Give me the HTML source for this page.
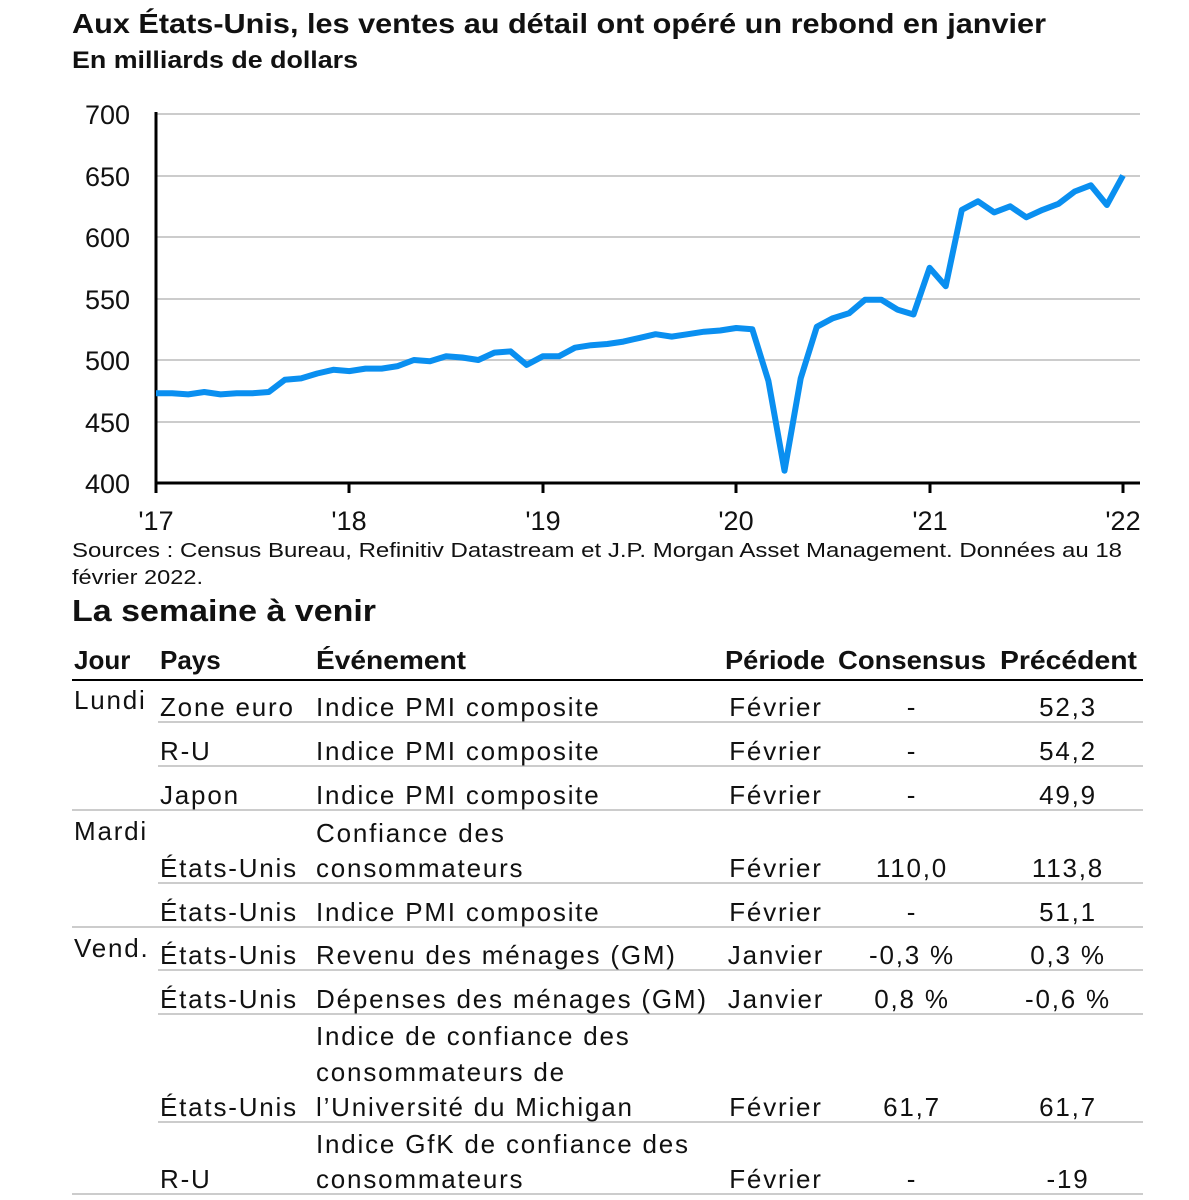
<!DOCTYPE html>
<html><head><meta charset="utf-8"><style>
html,body{margin:0;padding:0;background:#fff}
svg{display:block}
text{font-family:"Liberation Sans",sans-serif;fill:#111}
.t text{letter-spacing:1.8px}
</style></head><body>
<svg width="1189" height="1200" viewBox="0 0 1189 1200" xmlns="http://www.w3.org/2000/svg">
<text x="72" y="33" font-size="28" font-weight="bold" textLength="974" lengthAdjust="spacingAndGlyphs">Aux États-Unis, les ventes au détail ont opéré un rebond en janvier</text>
<text x="72" y="68" font-size="24" font-weight="bold" textLength="286" lengthAdjust="spacingAndGlyphs">En milliards de dollars</text>
<g stroke="#cccccc" stroke-width="2">
<line x1="156" y1="114" x2="1140" y2="114"/><line x1="156" y1="176" x2="1140" y2="176"/>
<line x1="156" y1="237" x2="1140" y2="237"/><line x1="156" y1="299" x2="1140" y2="299"/>
<line x1="156" y1="360" x2="1140" y2="360"/><line x1="156" y1="422" x2="1140" y2="422"/>
</g>
<g stroke="#000" stroke-width="3">
<line x1="156" y1="112" x2="156" y2="484"/><line x1="155" y1="483" x2="1140" y2="483"/>
<line x1="156" y1="483" x2="156" y2="493"/><line x1="349" y1="483" x2="349" y2="493"/>
<line x1="543" y1="483" x2="543" y2="493"/><line x1="736" y1="483" x2="736" y2="493"/>
<line x1="930" y1="483" x2="930" y2="493"/><line x1="1123" y1="483" x2="1123" y2="493"/>
</g>
<g font-size="27" text-anchor="end">
<text x="130" y="124">700</text><text x="130" y="186">650</text><text x="130" y="247">600</text>
<text x="130" y="309">550</text><text x="130" y="370">500</text><text x="130" y="432">450</text><text x="130" y="493">400</text>
</g>
<g font-size="27" text-anchor="middle">
<text x="156" y="530">'17</text><text x="349" y="530">'18</text><text x="543" y="530">'19</text>
<text x="736" y="530">'20</text><text x="930" y="530">'21</text><text x="1123" y="530">'22</text>
</g>
<polyline id="ln" fill="none" stroke="#0a8ff0" stroke-width="6" stroke-linejoin="round" points=""/>
<script>
var v=[473,473,472,474,472,473,473,474,484,485,489,492,491,493,493,495,500,499,503,502,500,506,507,496,503,503,510,512,513,515,518,521,519,521,523,524,526,525,483,410,485,527,534,538,549,549,541,537,575,560,622,629,620,625,616,622,627,637,642,626,650];
var p=v.map(function(d,i){return (156+i*967/60).toFixed(1)+","+(483-(d-400)*1.23).toFixed(1)}).join(" ");
document.getElementById("ln").setAttribute("points",p);
</script>
<text x="72" y="557" font-size="20" textLength="1050" lengthAdjust="spacingAndGlyphs">Sources : Census Bureau, Refinitiv Datastream et J.P. Morgan Asset Management. Données au 18</text>
<text x="72" y="584" font-size="20" textLength="131" lengthAdjust="spacingAndGlyphs">février 2022.</text>
<text x="72" y="621" font-size="31" font-weight="bold" textLength="304" lengthAdjust="spacingAndGlyphs">La semaine à venir</text>
<g font-size="26" font-weight="bold">
<text x="74" y="669">Jour</text><text x="160" y="669">Pays</text><text x="316" y="669" textLength="150" lengthAdjust="spacingAndGlyphs">Événement</text>
<text x="725" y="669" textLength="100" lengthAdjust="spacingAndGlyphs">Période</text>
<text x="838" y="669" textLength="148" lengthAdjust="spacingAndGlyphs">Consensus</text>
<text x="1000" y="669" textLength="137" lengthAdjust="spacingAndGlyphs">Précédent</text>
</g>
<line x1="72" y1="680" x2="1143" y2="680" stroke="#000" stroke-width="2"/>
<g stroke="#cccccc" stroke-width="2">
<line x1="158" y1="722" x2="1143" y2="722"/><line x1="158" y1="766" x2="1143" y2="766"/>
<line x1="72" y1="810" x2="1143" y2="810"/><line x1="158" y1="883" x2="1143" y2="883"/>
<line x1="72" y1="927" x2="1143" y2="927"/><line x1="158" y1="970" x2="1143" y2="970"/>
<line x1="158" y1="1014" x2="1143" y2="1014"/><line x1="158" y1="1122" x2="1143" y2="1122"/>
<line x1="72" y1="1194" x2="1143" y2="1194"/>
</g>
<g font-size="26" class="t">
<text x="74" y="709">Lundi</text><text x="74" y="840">Mardi</text><text x="74" y="957">Vend.</text>
<text x="160" y="716">Zone euro</text><text x="160" y="760">R-U</text><text x="160" y="804">Japon</text>
<text x="160" y="877">États-Unis</text><text x="160" y="921">États-Unis</text><text x="160" y="964">États-Unis</text>
<text x="160" y="1008">États-Unis</text><text x="160" y="1116">États-Unis</text><text x="160" y="1188">R-U</text>
<text x="316" y="716">Indice PMI composite</text><text x="316" y="760">Indice PMI composite</text><text x="316" y="804">Indice PMI composite</text>
<text x="316" y="842">Confiance des</text><text x="316" y="877">consommateurs</text>
<text x="316" y="921">Indice PMI composite</text>
<text x="316" y="964">Revenu des ménages (GM)</text>
<text x="316" y="1008">Dépenses des ménages (GM)</text>
<text x="316" y="1045">Indice de confiance des</text><text x="316" y="1081">consommateurs de</text><text x="316" y="1116">l’Université du Michigan</text>
<text x="316" y="1153">Indice GfK de confiance des</text><text x="316" y="1188">consommateurs</text>
</g>
<g font-size="26" text-anchor="middle" class="t">
<text x="776" y="716">Février</text><text x="776" y="760">Février</text><text x="776" y="804">Février</text>
<text x="776" y="877">Février</text><text x="776" y="921">Février</text><text x="776" y="964">Janvier</text>
<text x="776" y="1008">Janvier</text><text x="776" y="1116">Février</text><text x="776" y="1188">Février</text>
<text x="912" y="716">-</text><text x="912" y="760">-</text><text x="912" y="804">-</text>
<text x="912" y="877">110,0</text><text x="912" y="921">-</text><text x="912" y="964">-0,3 %</text>
<text x="912" y="1008">0,8 %</text><text x="912" y="1116">61,7</text><text x="912" y="1188">-</text>
<text x="1068" y="716">52,3</text><text x="1068" y="760">54,2</text><text x="1068" y="804">49,9</text>
<text x="1068" y="877">113,8</text><text x="1068" y="921">51,1</text><text x="1068" y="964">0,3 %</text>
<text x="1068" y="1008">-0,6 %</text><text x="1068" y="1116">61,7</text><text x="1068" y="1188">-19</text>
</g>
</svg>
</body></html>
